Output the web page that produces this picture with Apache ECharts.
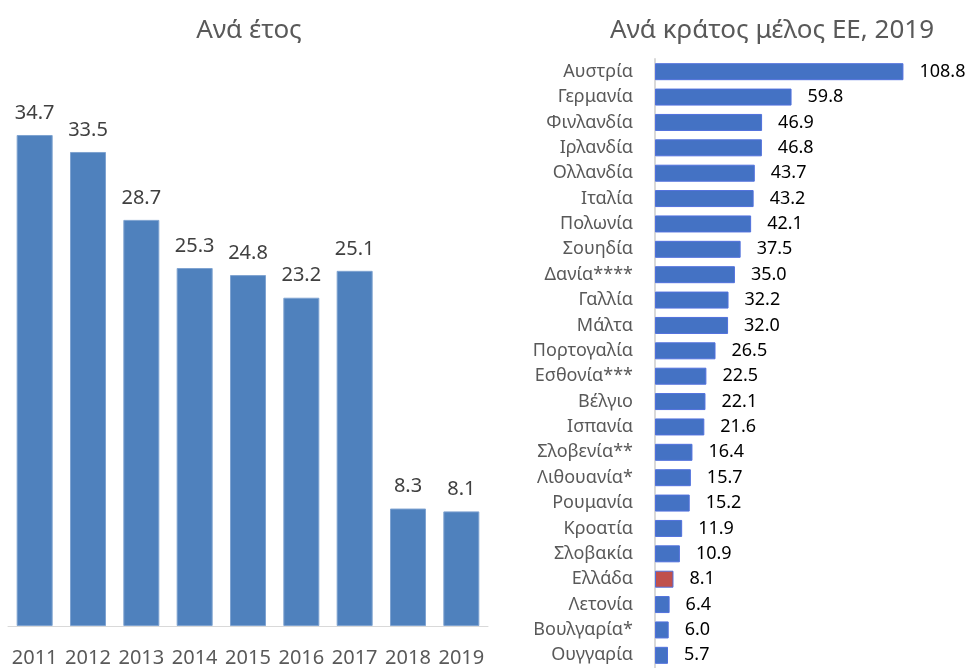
<!DOCTYPE html>
<html>
<head>
<meta charset="utf-8">
<script src="https://cdn.jsdelivr.net/npm/echarts@6/dist/echarts.min.js"></script>
<style>
  html, body { margin: 0; padding: 0; background: #fff; }
  #main { width: 969px; height: 668px; }
</style>
</head>
<body>
<div id="main"></div>
<script>
// Ανά έτος
const years = ['2011', '2012', '2013', '2014', '2015', '2016', '2017', '2018', '2019'];
const yearValues = [34.7, 33.5, 28.7, 25.3, 24.8, 23.2, 25.1, 8.3, 8.1];

// Ανά κράτος μέλος ΕΕ, 2019
const countries = ['Αυστρία', 'Γερμανία', 'Φινλανδία', 'Ιρλανδία', 'Ολλανδία', 'Ιταλία', 'Πολωνία',
    'Σουηδία', 'Δανία****', 'Γαλλία', 'Μάλτα', 'Πορτογαλία', 'Εσθονία***', 'Βέλγιο', 'Ισπανία',
    'Σλοβενία**', 'Λιθουανία*', 'Ρουμανία', 'Κροατία', 'Σλοβακία', 'Ελλάδα', 'Λετονία',
    'Βουλγαρία*', 'Ουγγαρία'];
const countryValues = [108.8, 59.8, 46.9, 46.8, 43.7, 43.2, 42.1, 37.5, 35.0, 32.2, 32.0, 26.5,
    22.5, 22.1, 21.6, 16.4, 15.7, 15.2, 11.9, 10.9, 8.1, 6.4, 6.0, 5.7];
const highlightCountry = 'Ελλάδα';

const FONT = 'Noto Sans';

const chart = echarts.init(document.getElementById('main'));
chart.setOption({
    animation: false,
    textStyle: { fontFamily: FONT },
    title: [
        {
            text: 'Ανά έτος',
            left: 244, top: 13, textAlign: 'center',
            textStyle: { fontFamily: FONT, fontSize: 26, fontWeight: 'normal', color: '#595959' }
        },
        {
            text: 'Ανά κράτος μέλος ΕΕ, 2019',
            left: 767, top: 13, textAlign: 'center',
            textStyle: { fontFamily: FONT, fontSize: 26, fontWeight: 'normal', color: '#595959' }
        }
    ],
    grid: [
        { left: 8, top: 60, width: 480, height: 567 },
        { left: 655, top: 59, width: 274, height: 612 }
    ],
    xAxis: [
        {
            gridIndex: 0,
            type: 'category',
            data: years,
            axisLine: { lineStyle: { color: '#D9D9D9', width: 1 } },
            axisTick: { show: false },
            axisLabel: {
                color: '#595959', fontSize: 20, margin: 22, fontFamily: FONT,
                interval: 0, hideOverlap: false
            }
        },
        {
            gridIndex: 1,
            type: 'value',
            min: 0, max: 120,
            show: false
        }
    ],
    yAxis: [
        {
            gridIndex: 0,
            type: 'value',
            min: 0, max: 40,
            show: false
        },
        {
            gridIndex: 1,
            type: 'category',
            data: countries,
            inverse: true,
            axisLine: { lineStyle: { color: '#D9D9D9', width: 2 } },
            axisTick: { show: false },
            axisLabel: {
                color: '#595959', fontSize: 18, margin: 22, fontFamily: FONT,
                interval: 0, hideOverlap: false
            }
        }
    ],
    series: [
        {
            type: 'bar',
            xAxisIndex: 0, yAxisIndex: 0,
            data: yearValues,
            barWidth: 36,
            itemStyle: { color: '#4F81BD', borderColor: '#7FA3D1', borderWidth: 1 },
            label: {
                show: true, position: 'top', distance: 12,
                color: '#404040', fontSize: 20, fontFamily: FONT,
                formatter: p => p.value.toFixed(1)
            }
        },
        {
            type: 'bar',
            xAxisIndex: 1, yAxisIndex: 1,
            data: countryValues,
            barWidth: 17,
            itemStyle: {
                color: p => p.name === highlightCountry ? '#C0504D' : '#4472C4',
                borderColor: p => p.name === highlightCountry ? '#C0504D' : '#8FAADC',
                borderWidth: 1
            },
            label: {
                show: true, position: 'right', distance: 16,
                color: '#000', fontSize: 18, fontFamily: FONT,
                formatter: p => p.value.toFixed(1)
            }
        }
    ]
});
</script>
</body>
</html>
